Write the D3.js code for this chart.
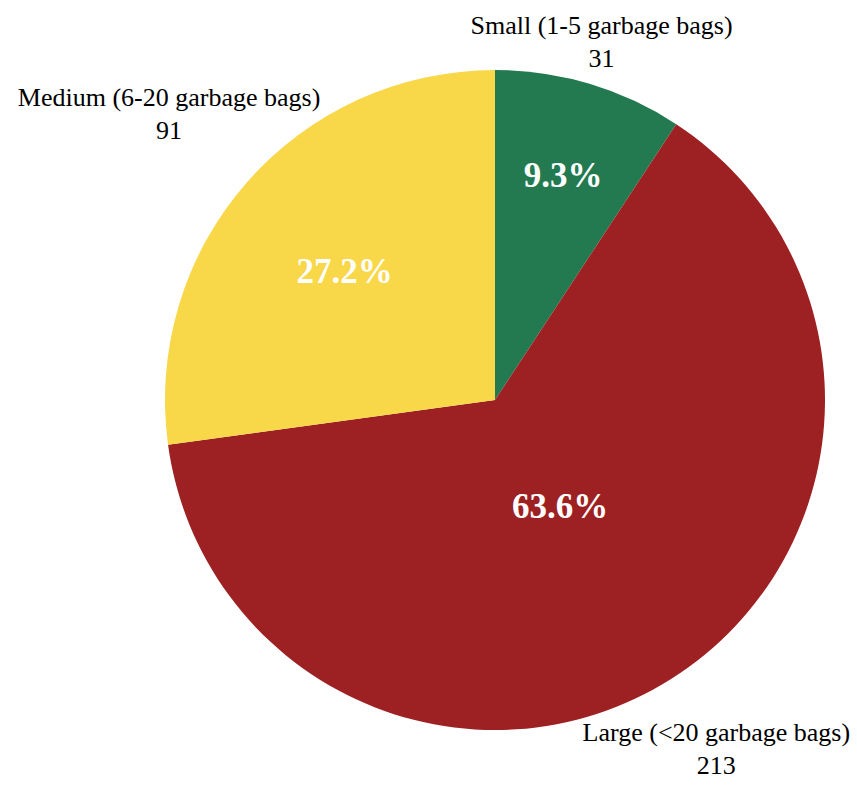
<!DOCTYPE html>
<html>
<head>
<meta charset="utf-8">
<script src="https://cdn.jsdelivr.net/npm/d3@7"></script>
<style>
  body { margin: 0; background: #fff; }
  text { font-family: "Liberation Serif", "Times New Roman", serif; }
</style>
</head>
<body>
<svg id="chart" width="857" height="785"></svg>
<script>
// slices go clockwise from 12 o'clock
const categories = ['Small (1-5 garbage bags)', 'Large (<20 garbage bags)', 'Medium (6-20 garbage bags)']
const counts = [31, 213, 91]
const colors = ['#237a50', '#9d2023', '#f8d748']

const width = 857, height = 785
const cx = 495, cy = 400, radius = 330
const total = d3.sum(counts)

const svg = d3.select('#chart')
const g = svg.append('g').attr('transform', 'translate(' + cx + ',' + cy + ')')

const pie = d3.pie().sort(null).value(d => d.value)
const arc = d3.arc().innerRadius(0).outerRadius(radius)

const data = categories.map((c, i) => ({ label: c, value: counts[i], color: colors[i] }))
const arcs = pie(data)

g.selectAll('path.slice')
    .data(arcs)
    .enter().append('path')
    .attr('class', 'slice')
    .attr('d', arc)
    .attr('fill', d => d.data.color)

const pct = d3.format('.1%')
const midAngle = d => (d.startAngle + d.endAngle) / 2

// percentage inside: smaller slices sit further out
g.selectAll('text.pct')
    .data(arcs)
    .enter().append('text')
    .attr('class', 'pct')
    .each(function (d) {
        const a = midAngle(d)
        const f = d.value / total
        const r = radius * (0.78 - 0.645 * f)
        d3.select(this)
            .attr('x', r * Math.sin(a))
            .attr('y', -r * Math.cos(a) + 3)
    })
    .attr('text-anchor', 'middle')
    .attr('dominant-baseline', 'central')
    .attr('fill', '#fff')
    .style('font-size', '35px')
    .style('font-weight', 'bold')
    .text(d => pct(d.value / total))

// outside labels: name + count, pushed along the slice's ray, kept inside the page
const lineGap = 33
const halfH = 28
const gap = 60
const labels = g.selectAll('g.lbl')
    .data(arcs)
    .enter().append('g')
    .attr('class', 'lbl')

labels.append('text')
    .attr('class', 'name')
    .attr('text-anchor', 'middle')
    .style('font-size', '26px')
    .attr('fill', '#000')
    .text(d => d.data.label)

labels.append('text')
    .attr('class', 'val')
    .attr('text-anchor', 'middle')
    .style('font-size', '26px')
    .attr('fill', '#000')
    .text(d => d.value)

labels.each(function (d) {
    const sel = d3.select(this)
    const w = sel.select('.name').node().getComputedTextLength()
    const a = midAngle(d)
    const s = Math.sin(a), c = -Math.cos(a)
    const edge = Math.min(Math.abs(s) > 1e-6 ? (w / 2) / Math.abs(s) : Infinity,
                          Math.abs(c) > 1e-6 ? halfH / Math.abs(c) : Infinity)
    let r = radius + edge + gap
    // clamp to page top / bottom by sliding back along the ray
    let y = cy + r * c
    if (y - halfH < 16) r -= (16 - (y - halfH)) / Math.abs(c)
    y = cy + r * c
    if (y + halfH > height - 6) r -= (y + halfH - (height - 6)) / Math.abs(c)
    const lx = r * s, ly = r * c
    sel.select('.name').attr('x', lx).attr('y', ly - 10)
    sel.select('.val').attr('x', lx).attr('y', ly - 10 + lineGap)
})
</script>
</body>
</html>
